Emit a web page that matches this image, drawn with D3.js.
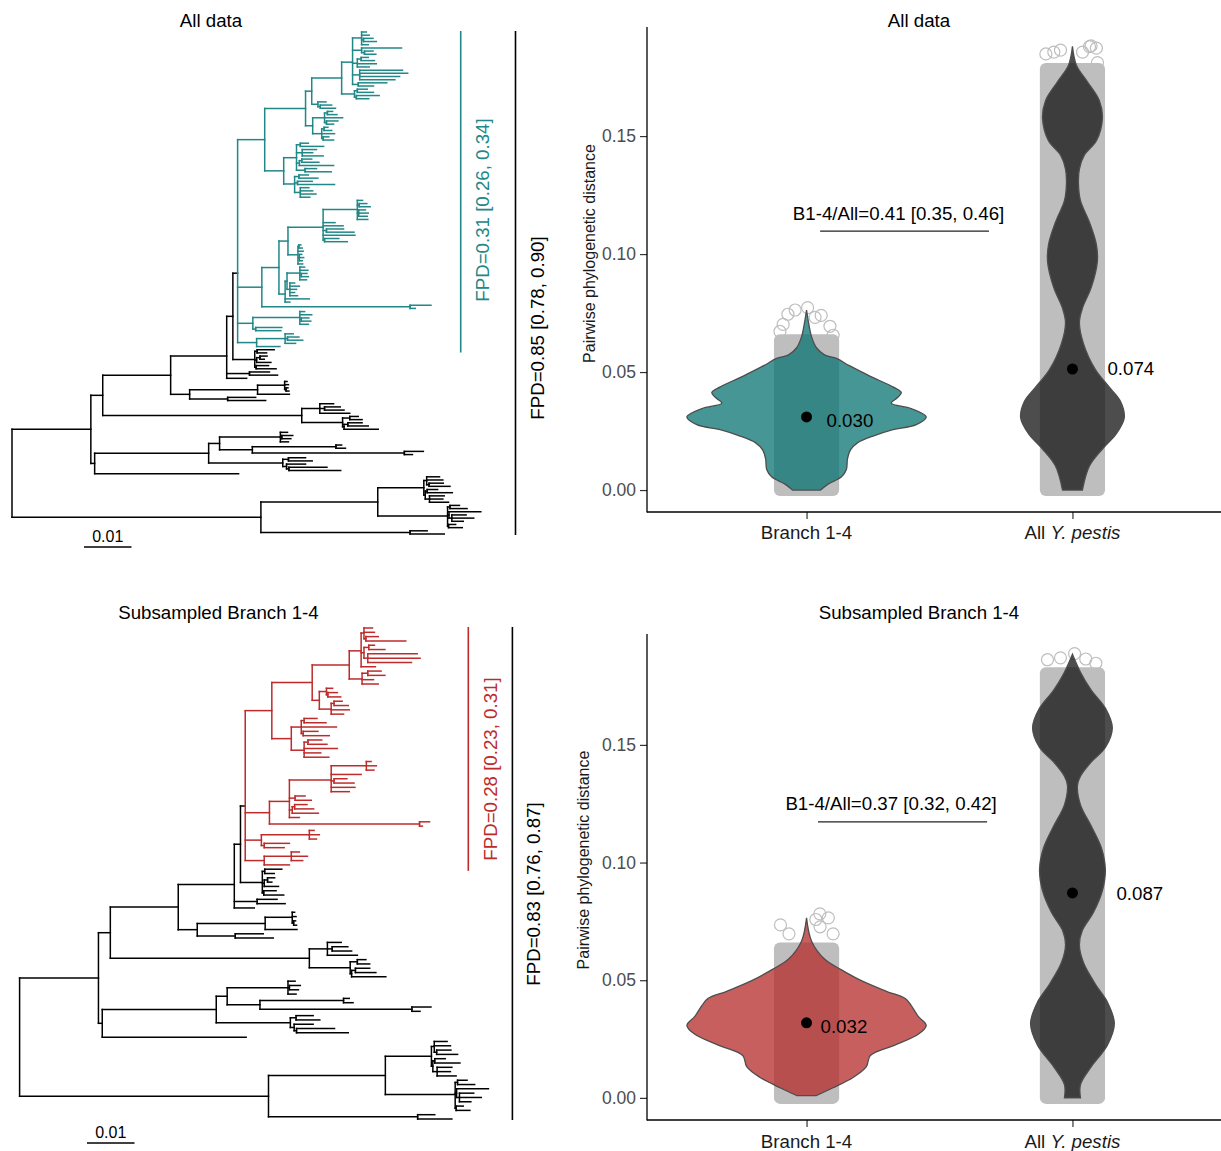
<!DOCTYPE html>
<html><head><meta charset="utf-8">
<script src="https://cdn.jsdelivr.net/npm/d3@7"></script>
<style>
body{margin:0;background:#fff}
svg{display:block}
text{font-family:"Liberation Sans",Arial,Helvetica,sans-serif}
</style>
</head><body>
<svg id="chart" width="1221" height="1151"></svg>
<script>
// ================= DATA =================
const categories = ["Branch 1-4", "All Y. pestis"];
const yTickValues = [0, 0.05, 0.10, 0.15];
const panelTitles = ["All data", "Subsampled Branch 1-4"];
const scaleBarLabel = "0.01";
const fpdFocalLabels = ["FPD=0.31 [0.26, 0.34]", "FPD=0.28 [0.23, 0.31]"];
const fpdAllLabels = ["FPD=0.85 [0.78, 0.90]", "FPD=0.83 [0.76, 0.87]"];

// --- tree pieces (Newick, branch lengths in 0.001 substitutions/site) ---
// shared (non Branch 1-4) part of the tree
const cladeK  = "((:3.6,:2.0):0.5,((:1.5,:0.9):0.7,:3.0):0.4,(:2.6,:4.2):0.3)";
const cladeG  = "(((:0.5,:0.8,(:0.4,:0.6):0.3):5.7,:6.7):14.3,(:5.9,:8.0):8.0)";
const cladeE  = "((:2.9,(:3.3,:4.1):1.0,:6.3):3.8,((:1.8,:2.6):1.5,((:3.0,:4.3):0.8,:7.2):0.3):8.6)";
const cladeC1a1 = "(:1.5,(:2.3,:1.9):0.3,:1.7)";
const cladeC1a2 = "((:1.2,:2.0):17.6,(:4.0,:1.7):32.0)";
const cladeC1b  = "((:3.6,:5.0):1.2,(:4.0,(:8.0,:10.9):0.5):0.8)";
const cladeL1a  = "((:2.7,:3.4,(:3.0,:4.4):0.5):0.6,((:2.2,:5.3):0.4,(:3.1,:2.8,:4.0):0.9):0.3)";
const cladeL1b  = "((:2.0,:3.6):0.5,(:6.7,(:3.0,:4.6,:2.4):0.6):0.3,(:1.5,:2.9):0.2)";
// Branch 1-4, all data (teal)
const tealP1 = "((:1.0,:1.6,(:2.0,:2.7):0.4,:1.4):1.9,(:8.4,(:1.8,:2.4):0.6):1.9,((:1.5,:2.8):0.8,:4.0,:2.5):1.0,(:9.0,:10.1,:8.4,:7.4):1.5,(:6.0,:3.2):1.2)";
const tealP2 = "((:2.1,:3.4):0.6,(:4.8,:2.6):0.4)";
const tealT1a2 = "(((:1.1,:2.0):0.6,:3.8,(:2.4,:1.5):0.4):2.5,((:0.8,:1.6):0.5,:2.7,(:1.2,:2.2):0.3):1.9)";
const tealT1b = "(((:1.7,:4.9):0.8,(:3.0,:2.2,:4.4):1.2,((:2.1,:3.6):0.5,:7.2):0.6,(:2.4,:5.5):1.8):2.7,((:2.0,:4.0):0.9,(:3.1,:7.8):0.6,(:1.8,:2.6,:3.3,:2.0):1.2):2.3)";
const tealT2top = "((:1.1,(:1.6,:2.3):0.4,(:1.4,:2.0,:1.8):0.3,:2.2):7.2,:2.5,:4.2,(:3.6,:5.8):0.7,:6.7,(:3.0,:4.8):0.3)";
const tealT2mid = "((:0.4,:0.7):0.2,:1.1,(:0.5,:0.9,:0.6):0.3,:1.0)";
const tealN3 = "(((:1.0,:1.7,(:1.2,:1.5):0.3,:1.4):2.7,(:1.0,:2.0,:1.4,:1.0,:1.6):0.6):0.4,:5.1,:1.0)";
const tealM1 = "((:1.0,:2.5,(:1.6,:2.0):0.3,:1.8):9.9,(:5.5,:5.3):0.6)";
const tealM2 = "((:1.7,(:2.4,:3.2):0.5,:2.2):6.0,:4.9)";
// Branch 1-4, subsampled (red)
const redA  = "((:1.8,:2.2,(:2.6,:8.4):0.4):0.6,((:1.2,:3.4):1.0,(:10.4,:11.0,:9.2):0.8):0.6,:3.0)";
const redB  = "((:2.8,:3.6):1.2,:2.4,:3.4)";
const redR1a2 = "((:1.3,(:2.0,:2.7):0.3):1.5,((:1.7,:3.0):0.6,:3.8,:2.6):2.5)";
const redR1b  = "(((:2.7,:4.6):0.6,:7.4,(:3.1,:5.5):0.4):2.1,((:2.9,:4.0):0.8,:7.0,:3.5,:5.2):2.7)";
const redR2a1 = "((:1.0,:2.1,:1.6):7.4,:6.3,(:2.7,:4.2):0.6,:5.0,:3.8)";
const redR3 = "((:1.0,:2.1,:1.5):10.1,(:5.3,:4.2):0.6)";
const redR4 = "((:1.7,:3.4,:2.4):5.7,:5.3)";

// --- violin profiles: [distance, relative half-width] ---
const violinBranchAll = [[0,0.117],[0.0026,0.183],[0.0056,0.292],[0.0087,0.333],[0.0132,0.342],[0.0170,0.367],[0.0200,0.425],[0.0231,0.567],[0.0254,0.708],[0.0277,0.917],[0.0310,1.0],[0.0345,0.875],[0.0368,0.708],[0.0391,0.758],[0.0413,0.792],[0.0436,0.725],[0.0482,0.533],[0.0527,0.358],[0.0558,0.25],[0.0573,0.15],[0.0603,0.083],[0.0649,0.042],[0.0709,0.017],[0.0763,0]];
const violinYpAll = [[0,0.083],[0.0102,0.142],[0.0178,0.258],[0.0239,0.367],[0.0307,0.433],[0.0377,0.4],[0.0436,0.308],[0.051,0.192],[0.062,0.092],[0.071,0.058],[0.077,0.083],[0.086,0.158],[0.0968,0.208],[0.104,0.2],[0.1135,0.142],[0.1226,0.067],[0.130,0.05],[0.136,0.058],[0.142,0.1],[0.148,0.2],[0.1575,0.25],[0.165,0.225],[0.173,0.125],[0.180,0.033],[0.188,0]];
const violinBranchSub = [[0.001,0.083],[0.0042,0.217],[0.0088,0.392],[0.0133,0.5],[0.018,0.533],[0.0225,0.742],[0.027,0.933],[0.0308,1.0],[0.0346,0.933],[0.0392,0.875],[0.0422,0.825],[0.0453,0.667],[0.0498,0.458],[0.0544,0.292],[0.059,0.15],[0.0666,0.042],[0.0765,0]];
const violinYpSub = [[0,0.067],[0.0057,0.067],[0.0133,0.158],[0.0224,0.292],[0.0316,0.35],[0.0407,0.292],[0.0483,0.192],[0.0575,0.092],[0.0651,0.058],[0.0712,0.083],[0.0788,0.175],[0.088,0.25],[0.097,0.275],[0.1062,0.242],[0.1154,0.158],[0.1245,0.067],[0.1329,0.042],[0.1367,0.067],[0.1428,0.158],[0.1489,0.275],[0.1572,0.333],[0.1656,0.275],[0.1732,0.158],[0.1809,0.067],[0.1885,0]];

const medianValuesAll = [0.0310, 0.0513];
const medianLabelsAll = ["0.030", "0.074"];
const medianLabelPosAll = [0.0297, 0.0515];
const medianValuesSub = [0.0319, 0.0871];
const medianLabelsSub = ["0.032", "0.087"];
const medianLabelPosSub = [0.0302, 0.0868];

const ratioLabels = ["B1-4/All=0.41 [0.35, 0.46]", "B1-4/All=0.37 [0.32, 0.42]"];
const bracketAll = [1.051, 1.686, 0.1097];
const bracketSub = [1.043, 1.679, 0.1173];
const ratioTextPosAll = [1.346, 0.1171];
const ratioTextPosSub = [1.318, 0.1251];

const jitterMaxAll = [0.066, 0.181];
const jitterMaxSub = [0.066, 0.183];
const jitterTopAll = [
  [[-0.43,0.0763],[0.04,0.0773],[0.32,0.0732],[-0.88,0.0702],[0.88,0.0694],[-1,0.0672],[1,0.0656],[0.55,0.0740],[-0.7,0.0745]],
  [[-1,0.1848],[-0.45,0.1864],[0.64,0.1879],[0.9,0.1873],[0.38,0.1856],[0.94,0.1811],[0.7,0.1882],[-0.7,0.1856]]
];
const jitterTopSub = [
  [[-0.98,0.0735],[-0.66,0.0697],[0.35,0.0758],[0.82,0.0765],[0.51,0.0727],[1,0.0697],[0.5,0.0782]],
  [[-0.94,0.1862],[0.08,0.1888],[0.88,0.1847],[-0.45,0.1870],[0.5,0.1865]]
];

// ================= TREE ASSEMBLY =================
function buildTree(focal) {
  const Cc = `(((${cladeC1a1}:12.8,${cladeC1a2}:6.9):2.3,${cladeC1b}:15.6):24.0,:30.3)`;
  const Lc = `((${cladeL1a}:9.7,${cladeL1b}:14.7):24.6,(:3.6,:7.2):31.4)`;
  const X = `(${focal}FOCAL:1.0,${cladeK}:4.6)`;
  const F = `(${X}:1.3,(:4.2,:5.9):4.8,:4.2)`;
  const D = `(${F}:11.8,${cladeG}:4.0)`;
  const B = `(${D}:14.3,${cladeE}:41.9)`;
  const A = `(${B}:2.5,${Cc}:0.8)`;
  return `(${A}:16.6,${Lc}:52.4);`;
}
const tealT1 = `(((( ${tealP1}:2.3,${tealP2}:2.7):6.3,(:1.7,(:2.4,:3.2):0.5):1.3):1.3,${tealT1a2}:1.5):8.6,${tealT1b}:4.0)`;
const tealN1 = `(((${tealT2top}:7.4,${tealT2mid}:2.1):1.9,${tealN3}:1.3):3.6,(:4.4,:1.1):31.2)`;
const tealClade = `(${tealT1}:5.7,${tealN1}:5.1,${tealM1}:3.2,${tealM2}:4.0)`;
const redR1 = `(((${redA}:2.5,${redB}:2.7):7.8,${redR1a2}:1.5):8.5,${redR1b}:4.1)`;
const redR2 = `((${redR2a1}:8.8,(:2.1,:3.4):1.2,((:2.6,:4.0):0.5,:5.5):0.6,:2.1):4.2,(:2.1,:0.6):31.6)`;
const redClade = `(${redR1}:5.6,${redR2}:5.1,${redR3}:3.4,${redR4}:4.0)`;

const newickAll = buildTree(tealClade);
const newickSub = buildTree(redClade);

function parseNewick(str) {
  const s = str.replace(/\s+/g, "");
  let i = 0;
  function node() {
    const n = {children: [], name: "", length: 0};
    if (s[i] === "(") {
      i++;
      do { n.children.push(node()); } while (s[i++] === ",");
    }
    const st = i;
    while (i < s.length && !":,();".includes(s[i])) i++;
    n.name = s.slice(st, i);
    if (s[i] === ":") {
      i++;
      const j = i;
      while (i < s.length && /[0-9.eE+\-]/.test(s[i])) i++;
      n.length = +s.slice(j, i);
    }
    return n;
  }
  return node();
}

// ================= DRAW =================
const svg = d3.select("#chart");
const FONT_BIG = 18.7;
const TEAL = "#218787", RED = "#bd2b2b";

function drawTree(cfg) {
  const g = svg.append("g");
  const root = d3.hierarchy(parseNewick(cfg.newick), d => d.children.length ? d.children : null);
  root.eachBefore(n => { n.dist = n.parent ? n.parent.dist + n.data.length * 0.001 : 0; });
  const leaves = root.leaves();
  const y = d3.scaleLinear().domain([0, leaves.length - 1]).range([cfg.yTop, cfg.yBot]);
  leaves.forEach((l, i) => { l.py = y(i); });
  root.eachAfter(n => { if (n.children) n.py = d3.mean(n.children, c => c.py); });
  const x = d3.scaleLinear().domain([0, 0.01]).range([cfg.x0, cfg.x0 + 47.5]);
  const focal = root.descendants().find(n => n.data.name === "FOCAL");
  const inFocal = new Set(focal.descendants());
  const segs = [];
  root.descendants().forEach(n => {
    if (n.parent) segs.push({x1: x(n.parent.dist), x2: x(n.dist), y1: n.py, y2: n.py, c: (inFocal.has(n) && n !== focal) ? cfg.color : "#000"});
    if (n.children) {
      const ys = n.children.map(c => c.py);
      segs.push({x1: x(n.dist), x2: x(n.dist), y1: d3.min(ys), y2: d3.max(ys), c: inFocal.has(n) ? cfg.color : "#000"});
    }
  });
  segs.sort((a, b) => (a.c === "#000" ? 0 : 1) - (b.c === "#000" ? 0 : 1));
  g.selectAll("line.br").data(segs).join("line")
    .attr("x1", d => d.x1).attr("x2", d => d.x2).attr("y1", d => d.y1).attr("y2", d => d.y2)
    .attr("stroke", d => d.c).attr("stroke-width", 1.5).attr("stroke-linecap", "square");

  // title
  g.append("text").attr("x", cfg.titleX).attr("y", cfg.titleY).attr("text-anchor", "middle")
    .attr("font-size", FONT_BIG).text(cfg.title);
  // scale bar
  const sbLen = x(0.01) - x(0);
  g.append("line").attr("x1", cfg.sbX).attr("x2", cfg.sbX + sbLen).attr("y1", cfg.sbY).attr("y2", cfg.sbY)
    .attr("stroke", "#000").attr("stroke-width", 1.5);
  g.append("text").attr("x", cfg.sbX + sbLen / 2).attr("y", cfg.sbY - 5).attr("text-anchor", "middle")
    .attr("font-size", 16).text(scaleBarLabel);
  // clade bars
  const fl = leaves.filter(l => inFocal.has(l));
  const fy = d3.extent(fl, l => l.py), ay = d3.extent(leaves, l => l.py);
  g.append("line").attr("x1", cfg.focalBarX).attr("x2", cfg.focalBarX).attr("y1", fy[0] - 1).attr("y2", fy[1] + 6)
    .attr("stroke", cfg.color).attr("stroke-width", 1.6);
  g.append("line").attr("x1", cfg.allBarX).attr("x2", cfg.allBarX).attr("y1", ay[0] - 1).attr("y2", ay[1] + 1)
    .attr("stroke", "#000").attr("stroke-width", 1.6);
  g.append("text").attr("transform", `translate(${cfg.focalBarX + 22},${cfg.focalTextY}) rotate(-90)`)
    .attr("text-anchor", "middle").attr("dy", "0.35em").attr("font-size", FONT_BIG).attr("fill", cfg.color).text(cfg.focalLabel);
  g.append("text").attr("transform", `translate(${cfg.allBarX + 21.5},${cfg.allTextY}) rotate(-90)`)
    .attr("text-anchor", "middle").attr("dy", "0.35em").attr("font-size", FONT_BIG).attr("fill", "#000").text(cfg.allLabel);
}

drawTree({newick: newickAll, x0: 12, yTop: 32, yBot: 534, color: TEAL, title: panelTitles[0], titleX: 211, titleY: 26.5,
  sbX: 84, sbY: 547, focalBarX: 460.7, allBarX: 515.5, focalTextY: 210, allTextY: 328,
  focalLabel: fpdFocalLabels[0], allLabel: fpdAllLabels[0]});
drawTree({newick: newickSub, x0: 19.6, yTop: 628, yBot: 1119, color: RED, title: panelTitles[1], titleX: 218.5, titleY: 618.5,
  sbX: 87, sbY: 1143, focalBarX: 468.3, allBarX: 512.4, focalTextY: 769, allTextY: 894,
  focalLabel: fpdFocalLabels[1], allLabel: fpdAllLabels[1]});

function drawViolins(cfg) {
  const g = svg.append("g");
  const x = d3.scalePoint().domain(categories).range([647, 1232]).padding(0.6);
  const step = x.step();
  const xi = d3.scaleLinear().domain([1, 2]).range([x(categories[0]), x(categories[1])]);
  const y = d3.scaleLinear().domain(cfg.domain).range([cfg.bottom, cfg.top]);
  const w = d3.scaleLinear().domain([0, 1]).range([0, 0.45 * step]);
  const jitterHalf = 0.1 * step, r = 6;
  const GREY = "#bebebe";

  // jitter points (dense band + individual outer points)
  categories.forEach((c, k) => {
    const cx = x(c);
    g.append("rect").attr("x", cx - jitterHalf - r).attr("width", 2 * (jitterHalf + r))
      .attr("y", y(cfg.jitterMax[k])).attr("height", y(0) + r - y(cfg.jitterMax[k]))
      .attr("rx", r).attr("fill", GREY);
    g.selectAll(null).data(cfg.jitterTop[k]).join("circle")
      .attr("cx", d => cx + d[0] * jitterHalf).attr("cy", d => y(d[1])).attr("r", r)
      .attr("fill", "none").attr("stroke", GREY).attr("stroke-width", 1.2);
  });
  // violins
  const profiles = [cfg.violinA, cfg.violinB];
  const fills = [cfg.color, "#111111"];
  profiles.forEach((p, k) => {
    const cx = x(categories[k]);
    const area = d3.area().curve(d3.curveCatmullRom.alpha(0.5))
      .y(d => y(d[0])).x0(d => cx - w(d[1])).x1(d => cx + w(d[1]));
    g.append("path").attr("d", area(p)).attr("fill", fills[k]).attr("fill-opacity", 0.75)
      .attr("stroke", "#4d4d4d").attr("stroke-width", 1.3);
  });
  // medians
  categories.forEach((c, k) => {
    g.append("circle").attr("cx", x(c)).attr("cy", y(cfg.medians[k])).attr("r", 5.5).attr("fill", "#000");
    g.append("text").attr("x", x(c) + cfg.labelNudge[k]).attr("y", y(cfg.labelPos[k])).attr("dy", "0.35em")
      .attr("font-size", FONT_BIG).attr("fill", "#000").text(cfg.medianLabels[k]);
  });
  // bracket + ratio
  g.append("line").attr("x1", xi(cfg.bracket[0])).attr("x2", xi(cfg.bracket[1]))
    .attr("y1", y(cfg.bracket[2])).attr("y2", y(cfg.bracket[2])).attr("stroke", "#222").attr("stroke-width", 1.2);
  g.append("text").attr("x", xi(cfg.ratioPos[0])).attr("y", y(cfg.ratioPos[1])).attr("dy", "0.35em")
    .attr("text-anchor", "middle").attr("font-size", FONT_BIG).text(cfg.ratio);

  // axes
  const ya = g.append("g").attr("transform", "translate(647,0)")
    .call(d3.axisLeft(y).tickValues(yTickValues).tickFormat(d3.format(".2f")).tickSize(7).tickPadding(4));
  ya.select(".domain").remove();
  ya.selectAll(".tick line").attr("stroke", "#333").attr("stroke-width", 1.2);
  ya.selectAll(".tick text").attr("font-size", 17.5).attr("fill", "#4d4d4d")
    .attr("font-family", '"Liberation Sans",Arial,sans-serif');
  const xa = g.append("g").attr("transform", `translate(0,${cfg.bottom})`)
    .call(d3.axisBottom(x).tickSize(7).tickFormat(""));
  xa.select(".domain").remove();
  xa.selectAll(".tick line").attr("stroke", "#333").attr("stroke-width", 1.2);
  g.append("line").attr("x1", 647).attr("x2", 647).attr("y1", cfg.top - 1).attr("y2", cfg.bottom + 0.6)
    .attr("stroke", "#000").attr("stroke-width", 1.3);
  g.append("line").attr("x1", 647).attr("x2", 1221).attr("y1", cfg.bottom).attr("y2", cfg.bottom)
    .attr("stroke", "#000").attr("stroke-width", 1.3);
  // x labels
  const lb = [["Branch 1-4"], ["All ", "Y. pestis"]];
  categories.forEach((c, k) => {
    const t = g.append("text").attr("x", x(c)).attr("y", cfg.xLabelY).attr("text-anchor", "middle")
      .attr("font-size", FONT_BIG).attr("fill", "#1a1a1a");
    lb[k].forEach((s, j) => t.append("tspan").attr("font-style", j === 1 ? "italic" : "normal").text(s));
  });
  // axis title
  g.append("text").attr("transform", `translate(${cfg.yTitleX},${cfg.yTitleY}) rotate(-90)`)
    .attr("text-anchor", "middle").attr("dy", "0.35em").attr("font-size", 16).attr("fill", "#1a1a1a")
    .text("Pairwise phylogenetic distance");
  // title
  g.append("text").attr("x", 919).attr("y", cfg.titleY).attr("text-anchor", "middle")
    .attr("font-size", FONT_BIG).text(cfg.title);
}

drawViolins({domain: [-0.0093, 0.1958], top: 28, bottom: 512, color: "#0a7373",
  violinA: violinBranchAll, violinB: violinYpAll, medians: medianValuesAll, medianLabels: medianLabelsAll,
  labelPos: medianLabelPosAll, labelNudge: [20, 35], bracket: bracketAll, ratio: ratioLabels[0], ratioPos: ratioTextPosAll,
  jitterMax: jitterMaxAll, jitterTop: jitterTopAll, xLabelY: 539, yTitleX: 589, yTitleY: 253.5, titleY: 27, title: panelTitles[0]});
drawViolins({domain: [-0.0094, 0.1967], top: 635, bottom: 1120, color: "#b52929",
  violinA: violinBranchSub, violinB: violinYpSub, medians: medianValuesSub, medianLabels: medianLabelsSub,
  labelPos: medianLabelPosSub, labelNudge: [14, 44], bracket: bracketSub, ratio: ratioLabels[1], ratioPos: ratioTextPosSub,
  jitterMax: jitterMaxSub, jitterTop: jitterTopSub, xLabelY: 1148, yTitleX: 583, yTitleY: 860, titleY: 618.7, title: panelTitles[1]});
</script>
</body></html>
